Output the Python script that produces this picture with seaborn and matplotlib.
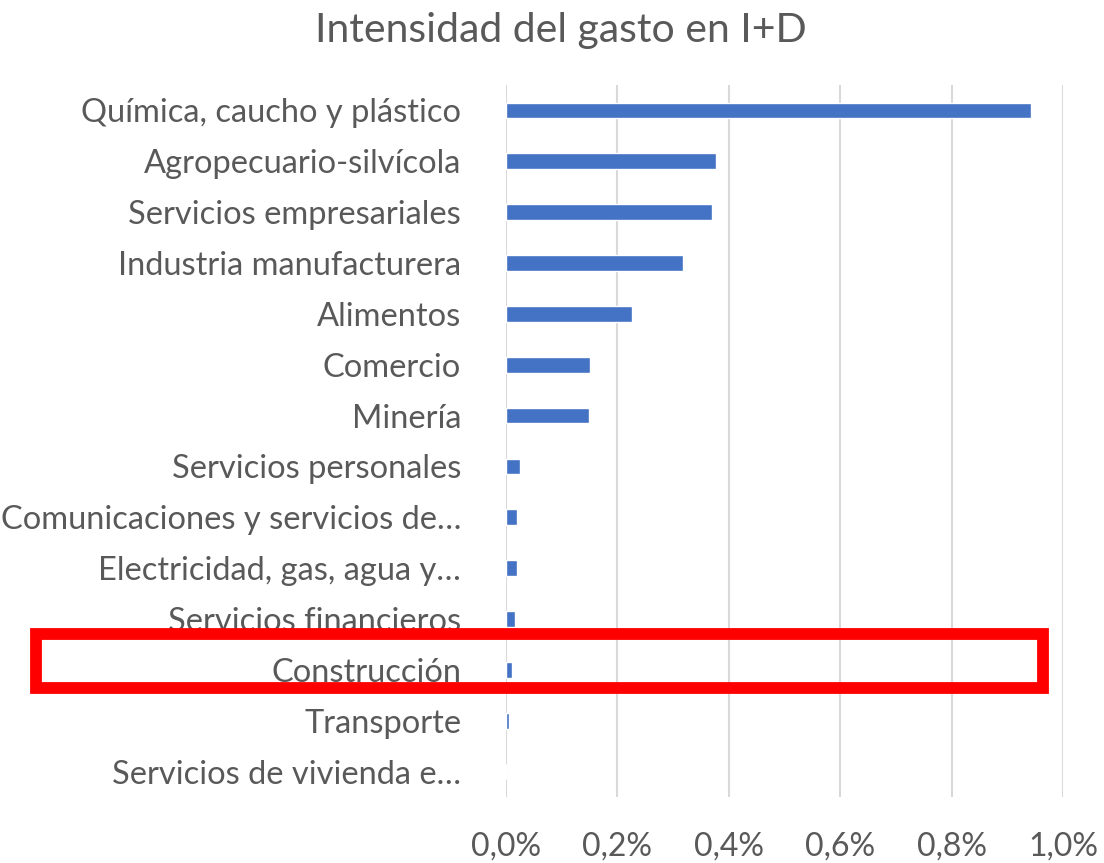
import numpy as np
import pandas as pd
import matplotlib
matplotlib.use('Agg')
import matplotlib.pyplot as plt
import matplotlib.transforms as mtransforms
from matplotlib.patches import Rectangle
import seaborn as sns

# Data (values in %)
sectores = [
    'Química, caucho y plástico',
    'Agropecuario-silvícola',
    'Servicios empresariales',
    'Industria manufacturera',
    'Alimentos',
    'Comercio',
    'Minería',
    'Servicios personales',
    'Comunicaciones y servicios de…',
    'Electricidad, gas, agua y…',
    'Servicios financieros',
    'Construcción',
    'Transporte',
    'Servicios de vivienda e…',
]
intensidad = [0.943, 0.378, 0.370, 0.318, 0.227, 0.151, 0.150,
              0.026, 0.021, 0.021, 0.016, 0.012, 0.006, 0.0]
x_ticks = [0.0, 0.2, 0.4, 0.6, 0.8, 1.0]
x_ticklabels = ['0,0%', '0,2%', '0,4%', '0,6%', '0,8%', '1,0%']
resaltado = 'Construcción'

df = pd.DataFrame({'sector': sectores, 'gasto': intensidad})

sns.set_theme(style='white')
plt.rcParams['font.family'] = ['Lato', 'DejaVu Sans']

gris_texto = '#595959'
fig = plt.figure(figsize=(11.04, 8.63), dpi=100)
ax = fig.add_axes([0.458, 0.0765, 0.505, 0.825])

sns.barplot(data=df, x='gasto', y='sector', orient='h', color='#4472C4',
            saturation=1, width=0.31, ax=ax)

ax.set_xlim(0, 1.0)
ax.set_xticks(x_ticks)
ax.set_xticklabels(x_ticklabels)
ax.set_xlabel('')
ax.set_ylabel('')
ax.grid(True, axis='x', color='#D9D9D9', linewidth=1.5)
ax.set_axisbelow(True)
for s in ax.spines.values():
    s.set_visible(False)
ax.tick_params(axis='y', length=0, pad=32, labelsize=23.5, labelcolor=gris_texto)
ax.tick_params(axis='x', length=0, pad=25, labelsize=23, labelcolor=gris_texto)

fig.text(0.508, 0.965, 'Intensidad del gasto en I+D', ha='center', va='center',
         fontsize=29.5, color=gris_texto)

# red highlight box around the "Construcción" row
i = sectores.index(resaltado)
trans = mtransforms.blended_transform_factory(fig.transFigure, ax.transData)
caja = Rectangle((0.0325, i - 0.71), 0.912, 1.06, transform=trans,
                 fill=False, edgecolor='#FF0000', linewidth=8.5, clip_on=False)
fig.add_artist(caja)

fig.savefig('out.png', dpi=100, facecolor='white')
